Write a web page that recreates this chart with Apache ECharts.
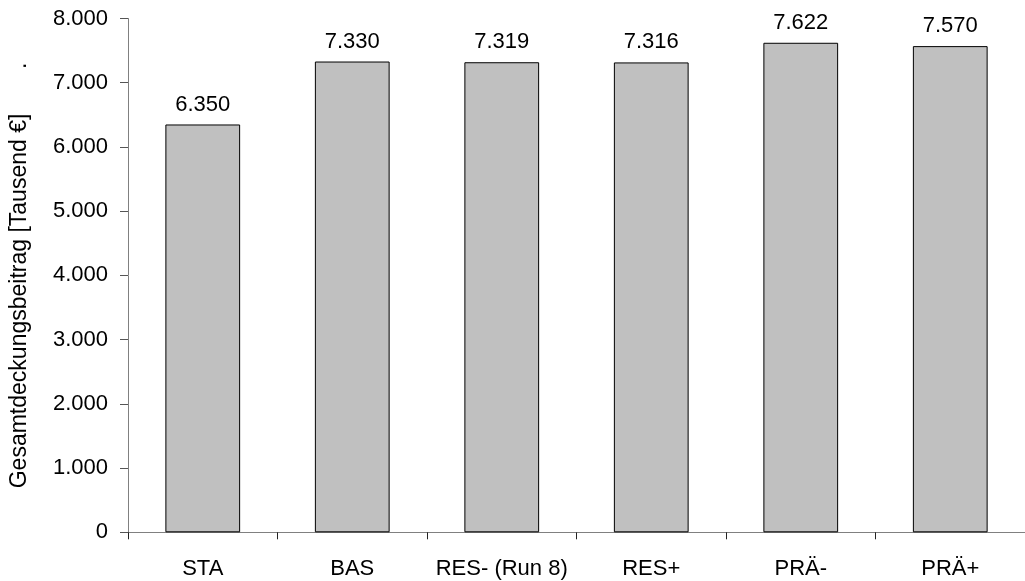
<!DOCTYPE html>
<html>
<head>
<meta charset="utf-8">
<script src="https://cdn.jsdelivr.net/npm/echarts@6/dist/echarts.min.js"></script>
<style>
  html, body { margin: 0; padding: 0; background: #fff; }
  #chart { width: 1025px; height: 581px; }
</style>
</head>
<body>
<div id="chart"></div>
<script>
// Scenarios and their total contribution margin (thousand euros)
const categories = ['STA', 'BAS', 'RES- (Run 8)', 'RES+', 'PRÄ-', 'PRÄ+'];
const values = [6350, 7330, 7319, 7316, 7622, 7570];
const yAxisTitle = 'Gesamtdeckungsbeitrag [Tausend €]';

const FONT = '"Liberation Sans", Arial, sans-serif';

// German thousands separator: 7330 -> "7.330"
function fmtDe(v) {
  return String(Math.round(v)).replace(/\B(?=(\d{3})+(?!\d))/g, '.');
}

const chart = echarts.init(document.getElementById('chart'), null, { renderer: 'canvas' });

chart.setOption({
  animation: false,
  backgroundColor: '#ffffff',
  textStyle: { fontFamily: FONT },
  grid: { left: 128, right: -7, top: 18.5, bottom: 48.7, containLabel: false },
  xAxis: {
    type: 'category',
    data: categories,
    boundaryGap: true,
    axisLine: { show: true, lineStyle: { color: '#808080', width: 1 } },
    axisTick: { show: true, length: 7, inside: false, lineStyle: { color: '#222' } },
    axisLabel: { color: '#000', fontSize: 22, fontFamily: FONT, margin: 26, interval: 0 },
    splitLine: { show: false }
  },
  yAxis: {
    type: 'value',
    min: 0,
    max: 8000,
    interval: 1000,
    name: yAxisTitle + '       .',
    nameLocation: 'middle',
    nameRotate: 90,
    nameGap: 97,
    nameTextStyle: { color: '#000', fontSize: 23, fontFamily: FONT },
    axisLine: { show: true, lineStyle: { color: '#808080', width: 1 } },
    axisTick: { show: true, length: 8, inside: false, lineStyle: { color: '#555' } },
    axisLabel: { color: '#000', fontSize: 22, fontFamily: FONT, margin: 20, formatter: fmtDe },
    splitLine: { show: false }
  },
  series: [{
    type: 'bar',
    data: values,
    barWidth: '50%',
    itemStyle: { color: '#c0c0c0', borderColor: '#000', borderWidth: 1 },
    label: {
      show: true,
      position: 'top',
      distance: 9,
      color: '#000',
      fontSize: 22,
      fontFamily: FONT,
      formatter: p => fmtDe(p.value)
    }
  }]
});
</script>
</body>
</html>
